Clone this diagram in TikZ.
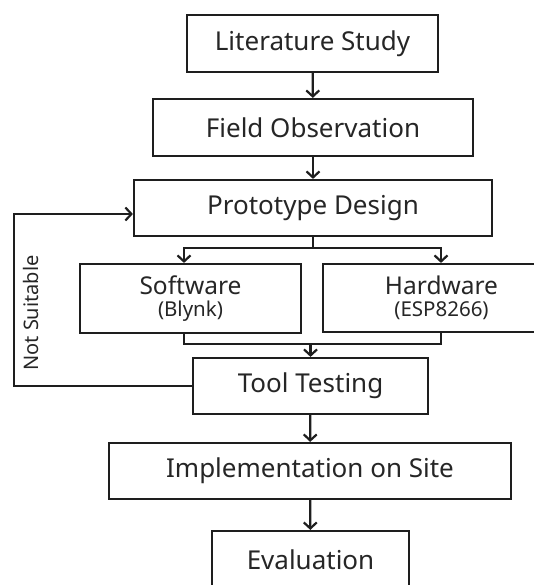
\documentclass[tikz,border=0pt]{standalone}
\usepackage{fontspec}
\setmainfont{Noto Sans}
\usetikzlibrary{arrows.meta}
\definecolor{ink}{HTML}{1E1E1E}
\definecolor{txt}{HTML}{262626}
\tikzset{
  box/.style={draw=ink, line width=2.2pt, rectangle, inner sep=0pt, text=txt,
    font=\fontsize{26}{30}\selectfont, align=center},
  subbox/.style={box, font=\fontsize{24.5}{26}\selectfont},
  conn/.style={draw=ink, line width=2.2pt},
  arr/.style={conn, -{Straight Barb[length=6pt,width=13pt,line width=2.2pt]}},
  sidelabel/.style={text=txt, font=\fontsize{20}{24}\selectfont, rotate=90, inner sep=0pt}
}
\begin{document}
\begin{tikzpicture}[x=1pt,y=-1pt]
\useasboundingbox (0,0) rectangle (534,585);
\clip (0,0) rectangle (534,585);
\fill[white] (0,0) rectangle (534,585);
\node[box, minimum width=251pt, minimum height=57pt] (lit) at (312.5,43.5) {Literature Study};
\node[box, minimum width=320pt, minimum height=57pt] (field) at (313,127.5) {Field Observation};
\node[box, minimum width=358pt, minimum height=56pt] (proto) at (313,208) {Prototype Design};
\node[subbox, minimum width=221pt, minimum height=69pt] (soft) at (190.5,298.5) {Software\\[-4pt]{\fontsize{20.5}{22}\selectfont(Blynk)}};
\node[subbox, minimum width=237pt, minimum height=68pt] (hard) at (441.5,298) {Hardware\\[-4pt]{\fontsize{20.5}{22}\selectfont(ESP8266)}};
\node[box, minimum width=235pt, minimum height=56pt] (test) at (310.5,386) {Tool Testing};
\node[box, minimum width=402pt, minimum height=56pt] (impl) at (310,471) {Implementation on Site};
\node[box, minimum width=197pt, minimum height=57pt] (eval) at (310.5,559.5) {Evaluation};
\coordinate (bl) at (184,248);
\coordinate (br) at (441,248);
\coordinate (ml) at (184,344);
\coordinate (mr) at (441,344);
\coordinate (fb) at (14,386);
\draw[arr] (lit) -- (field);
\draw[arr] (field) -- (proto);
\draw[arr] (proto.south) |- (bl) -- (bl |- soft.north);
\draw[arr] (proto.south) |- (br) -- (br |- hard.north);
\draw[conn] (ml |- soft.south) -- (ml) -- (mr) -- (mr |- hard.south);
\draw[arr] (ml -| test.north) -- (test.north);
\draw[arr] (test) -- (impl);
\draw[arr] (impl) -- (eval);
\draw[arr] (test.west) -- (fb) |- ([yshift=-6pt]proto.west);
\node[sidelabel] (ns) at (31,313) {Not Suitable};
\end{tikzpicture}
\end{document}
